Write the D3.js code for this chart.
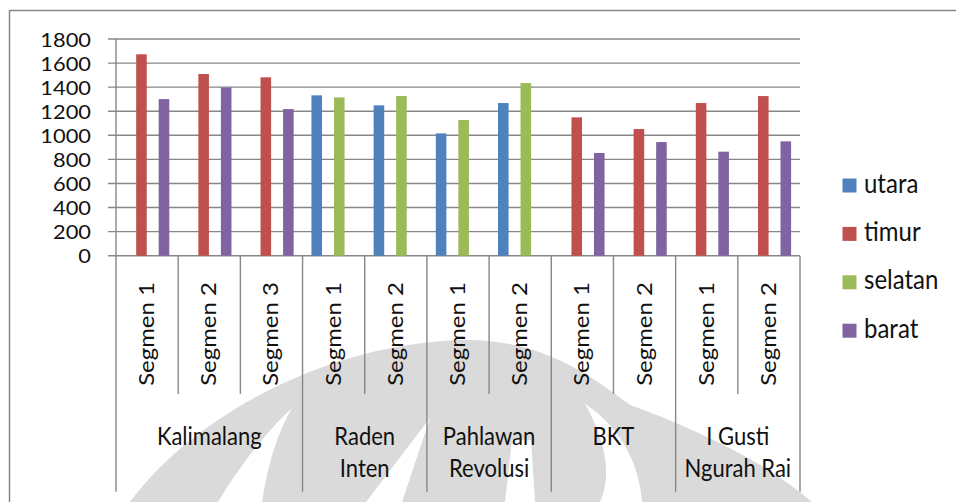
<!DOCTYPE html>
<html>
<head>
<meta charset="utf-8">
<script src="https://cdn.jsdelivr.net/npm/d3@7/dist/d3.min.js"></script>
<style>
  body { margin: 0; background: #fff; }
  text { font-family: Lato, "Open Sans", sans-serif; fill: #111; }
</style>
</head>
<body>
<svg id="chart" width="956" height="502"></svg>
<script>
// data
const segments = ["Segmen 1", "Segmen 2", "Segmen 3", "Segmen 1", "Segmen 2", "Segmen 1", "Segmen 2", "Segmen 1", "Segmen 2", "Segmen 1", "Segmen 2"];
const groupOf = [0, 0, 0, 1, 1, 2, 2, 3, 3, 4, 4];
const groupLabels = [["Kalimalang"], ["Raden", "Inten"], ["Pahlawan", "Revolusi"], ["BKT"], ["I Gusti", "Ngurah Rai"]];
const seriesNames = ["utara", "timur", "selatan", "barat"];
const utara   = [null, null, null, 1332, 1249, 1016, 1268, null, null, null, null];
const timur   = [1673, 1509, 1482, null, null, null, null, 1149, 1052, 1268, 1326];
const selatan = [null, null, null, 1315, 1326, 1127, 1434, null, null, null, null];
const barat   = [1301, 1398, 1218, null, null, null, null, 853, 944, 864, 950];
const yTicks = [0, 200, 400, 600, 800, 1000, 1200, 1400, 1600, 1800];
const colors = ["#4F81BD", "#C0504D", "#9BBB59", "#8064A2"];

const svg = d3.select("#chart");
const gridColor = "#878787";

const x = d3.scaleBand().domain(d3.range(segments.length)).range([116, 800]);
const xInner = d3.scaleBand().domain(seriesNames).range([0, x.bandwidth()])
  .paddingInner(0.06).paddingOuter(0.79);
const y = d3.scaleLinear().domain([0, 1800]).range([255.7, 39]);

const rows = segments.map((s, i) => ({
  i,
  values: [utara[i], timur[i], selatan[i], barat[i]]
}));

// text in the reference is a little taller than wide, so scale it
function label(g, tx, ty, str, o) {
  o = o || {};
  const sx = o.sx || 1, sy = o.sy || 1.14;
  return g.append("text")
    .attr("transform", `translate(${tx},${ty}) scale(${sx},${sy})` + (o.rotate ? " rotate(-90)" : ""))
    .attr("text-anchor", o.anchor || "middle")
    .style("font-size", (o.size || 22) + "px")
    .text(str);
}

// faint watermark behind the chart
const wm = svg.append("g");
wm.append("path")
  .attr("d", "M130,502 C190,420 320,345 460,340 C540,338 590,375 630,405 C700,430 770,465 812,502 Z")
  .attr("fill", "#dadada");
wm.append("path")
  .attr("d", "M218,502 L262,502 C268,462 278,432 292,408 C266,432 238,468 218,502 Z")
  .attr("fill", "#fff");
wm.append("path")
  .attr("d", "M366,502 L402,502 L430,418 Z")
  .attr("fill", "#fff");
wm.append("path")
  .attr("d", "M505,502 L535,502 L531,440 L512,440 Z")
  .attr("fill", "#fff");
wm.append("path")
  .attr("d", "M585,404 C600,430 615,470 600,502 L642,502 C640,470 625,430 585,404 Z")
  .attr("fill", "#fff");

// outer frame
svg.append("rect")
  .attr("x", 9.5).attr("y", 10.5)
  .attr("width", 1000).attr("height", 600)
  .attr("fill", "none").attr("stroke", "#888").attr("stroke-width", 1.5);

// gridlines + y labels
svg.append("g").selectAll("line")
  .data(yTicks)
  .enter().append("line")
  .attr("x1", 108).attr("x2", x.range()[1])
  .attr("y1", d => y(d)).attr("y2", d => y(d))
  .attr("stroke", gridColor).attr("stroke-width", 1.4);

const yLab = svg.append("g");
yTicks.forEach(t => label(yLab, 91, y(t) + 7.5, t, { anchor: "end", size: 19, sx: 1.15, sy: 1.05 }));

// bars
svg.append("g").selectAll("g")
  .data(rows)
  .enter().append("g")
  .attr("transform", d => `translate(${x(d.i)},0)`)
  .selectAll("rect")
  .data(d => d.values.map((v, k) => ({ v, k })).filter(e => e.v != null))
  .enter().append("rect")
  .attr("x", e => xInner(seriesNames[e.k]))
  .attr("y", e => y(e.v))
  .attr("width", xInner.bandwidth())
  .attr("height", e => y(0) - y(e.v))
  .attr("fill", e => colors[e.k]);

// y axis line
svg.append("line")
  .attr("x1", 116).attr("x2", 116).attr("y1", y(1800)).attr("y2", y(0))
  .attr("stroke", gridColor).attr("stroke-width", 1.4);

// category dividers: short between segments, long between groups
const axisG = svg.append("g");
d3.range(segments.length + 1).forEach(i => {
  const xp = i < segments.length ? x(i) : x.range()[1];
  const isGroupEdge = i === 0 || i === segments.length || groupOf[i] !== groupOf[i - 1];
  axisG.append("line")
    .attr("x1", xp).attr("x2", xp)
    .attr("y1", y(0)).attr("y2", isGroupEdge ? 491.7 : 394)
    .attr("stroke", gridColor).attr("stroke-width", 1.4);
});

// segment labels (rotated)
segments.forEach((s, i) => {
  label(axisG, x(i) + x.bandwidth() / 2 + 7, 334, s, { rotate: true, size: 21 });
});

// group labels
groupLabels.forEach((lines, gi) => {
  const idx = d3.range(segments.length).filter(i => groupOf[i] === gi);
  const x0 = x(idx[0]);
  const x1 = x(idx[idx.length - 1]) + x.bandwidth();
  lines.forEach((ln, li) => label(axisG, (x0 + x1) / 2, 445 + li * 31.7, ln, { size: 22 }));
});

// legend
const legend = svg.append("g");
seriesNames.forEach((name, k) => {
  const cy = 185.5 + k * 48.4;
  legend.append("rect")
    .attr("x", 842.5).attr("y", cy - 7)
    .attr("width", 14).attr("height", 14)
    .attr("fill", colors[k]);
  label(legend, 864, cy + 7, name, { anchor: "start", size: 24, sy: 1.1 });
});
</script>
</body>
</html>
